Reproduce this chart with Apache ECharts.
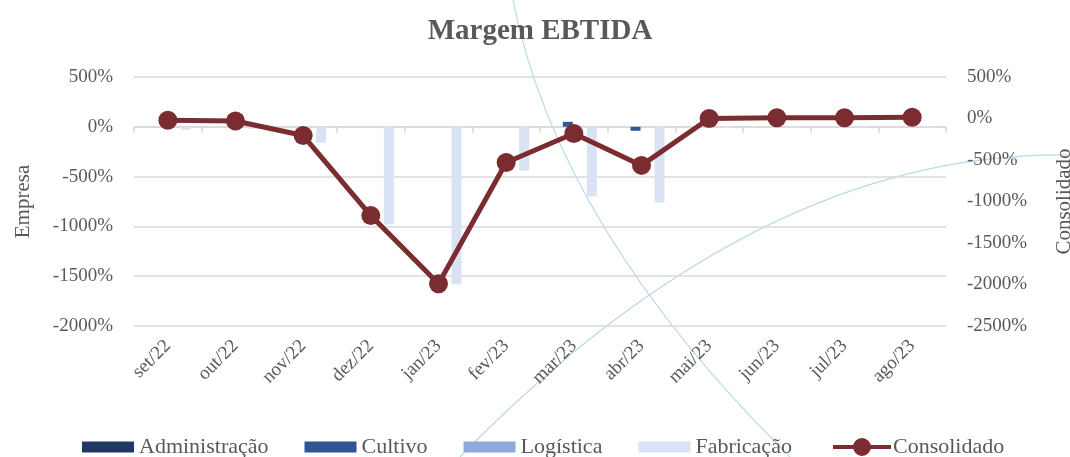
<!DOCTYPE html>
<html>
<head>
<meta charset="utf-8">
<title>Margem EBTIDA</title>
<script src="https://cdn.jsdelivr.net/npm/echarts@6.0.0/dist/echarts.min.js"></script>
<style>
  html, body { margin: 0; padding: 0; background: #fff; }
  #chart { width: 1070px; height: 457px; }
</style>
</head>
<body>
<div id="chart"></div>
<script>
// meses
const categorias = ["set/22", "out/22", "nov/22", "dez/22", "jan/23", "fev/23",
  "mar/23", "abr/23", "mai/23", "jun/23", "jul/23", "ago/23"];
// margem por empresa (%), eixo da esquerda
const administracao = [0, 0, 0, 0, 0, 0, 0, 0, 0, 0, 0, 0];
const cultivo = [0, 0, 0, 0, 0, 0, 50, -40, 0, 0, 0, 0];
const logistica = [0, 0, 0, 0, 0, 0, 0, 0, 0, 0, 0, 0];
const fabricacao = [-30, -20, -160, -980, -1580, -440, -700, -760, -10, -10, -10, -10];
// consolidado (%), eixo da direita
const consolidado = [-20, -30, -205, -1170, -1990, -530, -180, -565, 0, 10, 10, 15];

const fonte = "'Liberation Serif', 'DejaVu Serif', serif";
const cinza = "#595959";
const linhaGrade = "#d9d9d9";
const vinho = "#7b2c31";

// ícone da legenda da linha: traço grosso com bolinha no meio
const iconeLinha = "path://M0,7L58,7L58,11L0,11Z M38,9A9,9 0 1,1 20,9A9,9 0 1,1 38,9Z";

const chart = echarts.init(document.getElementById("chart"));

// sem separador de milhar, igual ao Excel
function pct(v) {
  return v + "%";
}

function barra(nome, dados, cor) {
  return {
    name: nome,
    type: "bar",
    data: dados,
    xAxisIndex: 0,
    yAxisIndex: 0,
    barWidth: 10,
    barGap: "20%",
    itemStyle: { color: cor },
  };
}

const option = {
  backgroundColor: "#fff",
  animation: false,
  textStyle: { fontFamily: fonte },
  // arcos decorativos do fundo
  graphic: [
    {
      type: "bezierCurve",
      z: -1,
      silent: true,
      shape: { x1: 513, y1: 0, cpx1: 558, cpy1: 228, x2: 790, y2: 457 },
      style: { stroke: "#b9d9e6", lineWidth: 1.2, fill: null },
    },
    {
      type: "bezierCurve",
      z: -1,
      silent: true,
      shape: { x1: 460, y1: 457, cpx1: 760, cpy1: 150, x2: 1070, y2: 155 },
      style: { stroke: "#b9d9e6", lineWidth: 1.2, fill: null },
    },
  ],
  title: {
    text: "Margem EBTIDA",
    left: 535,
    textAlign: "center",
    top: 12,
    textStyle: { fontFamily: fonte, fontSize: 29, fontWeight: "bold", color: cinza },
  },
  legend: [
    {
      // barras
      top: 431,
      left: 77,
      icon: "rect",
      itemWidth: 52,
      itemHeight: 11,
      itemGap: 36,
      textStyle: { fontFamily: fonte, fontSize: 22, color: cinza },
      data: ["Administração", "Cultivo", "Logística", "Fabricação"],
    },
    {
      // linha
      top: 431,
      left: 828,
      icon: iconeLinha,
      itemWidth: 58,
      itemHeight: 18,
      textStyle: { fontFamily: fonte, fontSize: 22, color: cinza, padding: [0, 0, 0, -3] },
      data: ["Consolidado"],
    },
  ],
  grid: { left: 134, right: 124, top: 77, bottom: 131, outerBoundsMode: "none" },
  xAxis: [
    {
      // rótulos em baixo
      type: "category",
      data: categorias,
      position: "bottom",
      axisLine: { show: false, onZero: false },
      axisTick: { show: false },
      axisLabel: { rotate: 45, margin: 17, fontSize: 19, color: cinza, fontFamily: fonte },
    },
    {
      // linha do zero com marcas
      type: "category",
      data: categorias,
      position: "bottom",
      axisLine: { show: true, onZero: true, onZeroAxisIndex: 0, lineStyle: { color: linhaGrade, width: 1.5 } },
      axisTick: { show: true, length: 6, lineStyle: { color: linhaGrade, width: 1.5 } },
      axisLabel: { show: false },
    },
  ],
  yAxis: [
    {
      type: "value",
      name: "Empresa",
      nameLocation: "middle",
      nameGap: 100,
      nameTextStyle: { fontFamily: fonte, fontSize: 21, color: cinza },
      min: -2000,
      max: 500,
      interval: 500,
      axisLine: { show: false },
      axisTick: { show: false },
      axisLabel: { formatter: pct, margin: 21, fontSize: 19, color: cinza, fontFamily: fonte },
      splitLine: { lineStyle: { color: linhaGrade, width: 1.5 } },
    },
    {
      type: "value",
      name: "Consolidado",
      nameLocation: "middle",
      nameGap: 108,
      nameTextStyle: { fontFamily: fonte, fontSize: 21, color: cinza },
      min: -2500,
      max: 500,
      interval: 500,
      axisLine: { show: false },
      axisTick: { show: false },
      axisLabel: { formatter: pct, margin: 21, fontSize: 19, color: cinza, fontFamily: fonte },
      splitLine: { show: false },
    },
  ],
  series: [
    barra("Administração", administracao, "#1f3864"),
    barra("Cultivo", cultivo, "#2f5597"),
    barra("Logística", logistica, "#8faadc"),
    barra("Fabricação", fabricacao, "#dae3f3"),
    {
      name: "Consolidado",
      type: "line",
      data: consolidado,
      xAxisIndex: 0,
      yAxisIndex: 1,
      symbol: "circle",
      symbolSize: 19,
      z: 5,
      lineStyle: { color: vinho, width: 5 },
      itemStyle: { color: vinho },
    },
  ],
};

chart.setOption(option);
</script>
</body>
</html>
